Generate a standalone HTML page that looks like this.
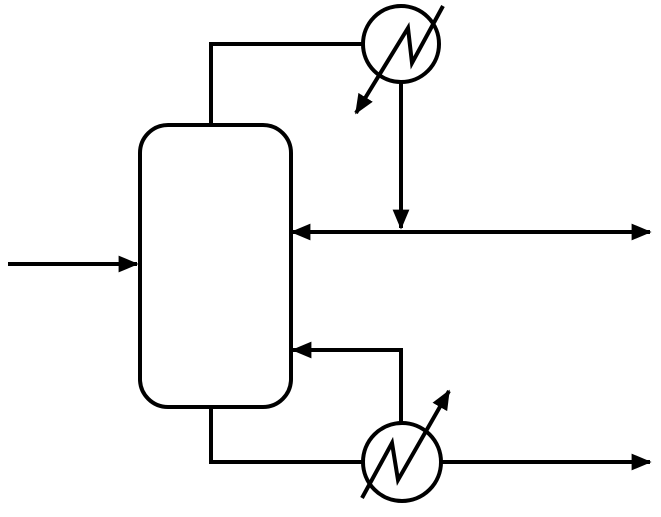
<!DOCTYPE html>
<html><head><style>body{margin:0;background:#fff}</style></head><body>
<svg width="661" height="512" viewBox="0 0 661 512" xmlns="http://www.w3.org/2000/svg">
<defs><marker id="a" markerWidth="7" markerHeight="7" refX="4.6" refY="3" orient="auto" markerUnits="strokeWidth"><path d="M0,0.9 L5,3 L0,5.1 Z" fill="#000"/></marker></defs>
<g fill="none" stroke="#000" stroke-width="4">
<rect x="140" y="125" width="151" height="282" rx="28"/>
<polyline points="211,125 211,44 362,44"/>
<circle cx="401" cy="44" r="38"/>
<line x1="401" y1="82" x2="401" y2="228" marker-end="url(#a)"/>
<line x1="300" y1="232" x2="650" y2="232" marker-end="url(#a)"/>
<line x1="320" y1="232" x2="292" y2="232" marker-end="url(#a)"/>
<line x1="8" y1="264" x2="137" y2="264" marker-end="url(#a)"/>
<polyline points="211,407 211,462 363,462"/>
<circle cx="402" cy="462" r="39"/>
<line x1="441" y1="462" x2="650" y2="462" marker-end="url(#a)"/>
<polyline points="401,423 401,350 293,350" marker-end="url(#a)"/>
<polyline points="443,6 412,63 408,28 356,113" marker-end="url(#a)"/>
<polyline points="362,498 392,443 398,480 449,391" marker-end="url(#a)"/>
</g>
</svg>
</body></html>
